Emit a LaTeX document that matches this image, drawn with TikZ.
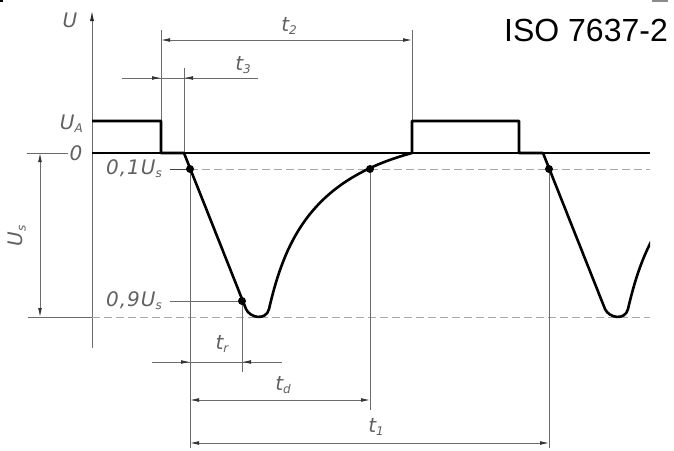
\documentclass[tikz,border=0pt]{standalone}
\usepackage{fontspec}
\setmainfont{Liberation Sans}
\newfontfamily\isofont[LetterSpace=5]{DejaVu Sans}
\usetikzlibrary{arrows.meta}
\newcommand{\sbs}[1]{{\fontsize{12}{12}\selectfont\raisebox{-3pt}{#1}}}
\begin{document}
\begin{tikzpicture}[x=1pt,y=-1pt,
  ext/.style={draw=black!58, line width=0.8pt},
  tipa/.style={-{Latex[length=9pt,width=3.8pt,color=black!80]}},
  dimln/.style={ext, {Latex[length=9pt,width=3.8pt,color=black!80]}-{Latex[length=9pt,width=3.8pt,color=black!80]}},
  wave/.style={draw=black, line width=2.6pt, line join=round},
  dsh/.style={draw=black!35, line width=0.9pt, dash pattern=on 8pt off 4pt},
  lbl/.style={text=black!62, font=\isofont\fontsize{20}{22}\selectfont\itshape, inner sep=0pt}]
\useasboundingbox (0,0) rectangle (674,450);
\fill[white] (0,0) rectangle (674,450);
% corner marks
\fill[black] (0,0) rectangle (3,2);
\fill[black!45] (652,0) rectangle (668,2);

% axis
\draw[ext,-{Latex[length=10pt,width=4pt,color=black!85]}] (92,348) -- (92,11);
\node[lbl] (U) at (70,20) {U};
\node[lbl, anchor=east] (UA) at (83,124) {U\sbs{A}};
\node[lbl] (zero) at (76,153) {0};
\node[lbl, anchor=east] (u01) at (162,169) {0,1U\sbs{s}};
\node[lbl, anchor=east] (u09) at (162,301) {0,9U\sbs{s}};
\node[lbl, rotate=90] (Us) at (17,236) {U\sbs{s}};

% reference lines
\draw[ext] (27,153) -- (68,153);
\draw[ext] (28,317) -- (92,317);
\draw[dsh] (92,317) -- (650,317);
\draw[dsh] (190,169) -- (650,169);
\draw[black, line width=1.8pt] (92,153) -- (650,153);

% extension lines
\draw[ext] (161,30) -- (161,121);
\draw[ext] (412,30) -- (412,121);
\draw[ext] (184,68) -- (184,153);
\draw[ext] (190,169) -- (190,448);
\draw[ext] (242,301) -- (242,372);
\draw[ext] (370,169) -- (370,410);
\draw[ext] (549,169) -- (549,448);
% leaders
\draw[black!75, line width=1pt] (170,169) -- (190,169);
\draw[ext] (170,301) -- (242,301);

% dimensions
\draw[dimln] (161,40) -- (412,40);
\node[lbl] (t2) at (289,26) {t\sbs{2}};
\draw[ext] (122,78) -- (258,78);
\draw[ext,tipa] (140,78) -- (161,78);
\draw[ext,tipa] (205,78) -- (184,78);
\node[lbl] (t3) at (243,65) {t\sbs{3}};
\draw[dimln] (40,153) -- (40,317);
\draw[ext] (152,362) -- (282,362);
\draw[ext,tipa] (170,362) -- (190,362);
\draw[ext,tipa] (262,362) -- (242,362);
\node[lbl] (tr) at (222,344) {t\sbs{r}};
\draw[dimln] (190,400) -- (370,400);
\node[lbl] (td) at (283,385) {t\sbs{d}};
\draw[dimln] (190,443) -- (549,443);
\node[lbl] (t1) at (376,427) {t\sbs{1}};

% waveform
\draw[wave] (92,121) -- (161,121) -- (161,153) -- (184,153) -- (246,309)
  .. controls (250,318) and (266,321) .. (269,309)
  .. controls (285,240) and (312,180) .. (412,153)
  -- (412,121) -- (519,121) -- (519,153) -- (543,153);
\begin{scope}
\clip (530,100) rectangle (650,330);
\draw[wave] (543,153) -- (605,309)
  .. controls (609,318) and (625,321) .. (628,309)
  .. controls (644,240) and (671,180) .. (771,153);
\end{scope}

% dots
\fill (190,169) circle (4pt);
\fill (242,301) circle (4pt);
\fill (370,169) circle (4pt);
\fill (549,169) circle (4pt);

\node[font=\fontsize{32}{36}\selectfont, inner sep=0pt] (iso) at (586,30) {ISO 7637-2};
\end{tikzpicture}
\end{document}
